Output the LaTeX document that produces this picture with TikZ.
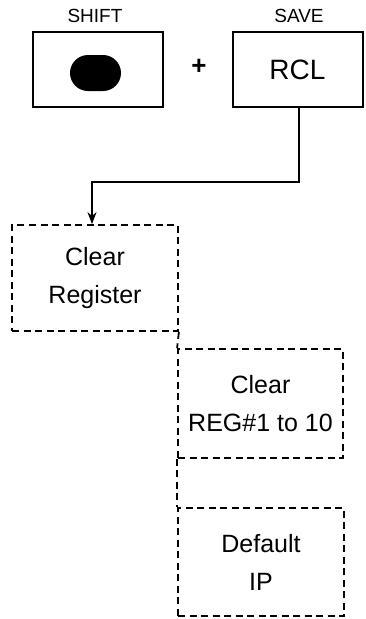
\documentclass[tikz,border=0pt]{standalone}
\usepackage{fontspec}
\setmainfont{Liberation Sans}
\usetikzlibrary{shapes.misc,arrows.meta}
\begin{document}
\begin{tikzpicture}[x=1pt,y=-1pt,
  keybox/.style={draw,line width=2pt,minimum width=130pt,minimum height=75pt,inner sep=0pt},
  dline/.style={line width=1.8pt,dash pattern=on 7pt off 4.5pt},
  dbox/.style={draw,dline,inner sep=0pt,align=center,font=\fontsize{25}{38}\selectfont},
  lbl/.style={font=\fontsize{19}{20}\selectfont},
  conn/.style={line width=1.6pt}]
\useasboundingbox (0,0) rectangle (366,619);
\node[lbl] (shiftl) at (95,16) {SHIFT};
\node[lbl] (savel) at (299,16) {SAVE};
\node[keybox] (shift) at (97.5,69.5) {};
\node[fill=black,rounded rectangle,minimum width=51pt,minimum height=36pt,inner sep=0pt] (oval) at (95.5,73) {};
\node[font=\fontsize{26}{26}\selectfont\bfseries] (plus) at (199,67) {+};
\node[keybox,font=\fontsize{28}{28}\selectfont] (rcl) at (297.5,69.5) {RCL};
\node[dbox,minimum width=166pt,minimum height=106pt] (cr) at (95,278) {Clear\\Register};
\node[dbox,minimum width=165pt,minimum height=109pt] (reg) at (260.5,403.5) {Clear\\REG\#1 to 10};
\node[dbox,minimum width=166pt,minimum height=108pt] (ip) at (261,562) {Default\\IP};
\coordinate (bend1) at (299,182);
\coordinate (bend2) at (92,182);
\draw[conn,-{Stealth[length=12pt,width=9pt]}] (rcl.south -| bend1) -- (bend1) -- (bend2) -- (bend2 |- cr.north);
\draw[dline] (cr.south east) -- (reg.north west);
\draw[dline] (reg.south west) -- (ip.north west);
\end{tikzpicture}
\end{document}
